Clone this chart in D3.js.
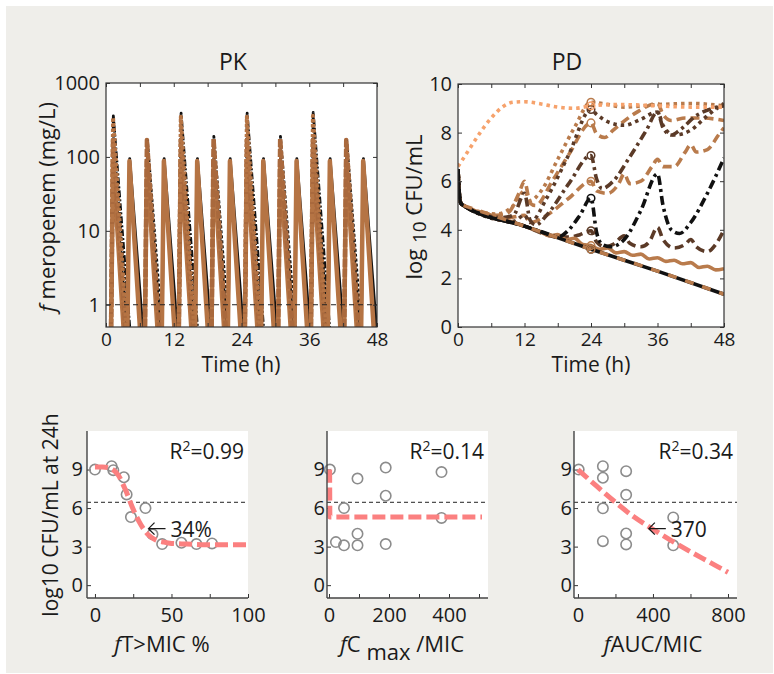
<!DOCTYPE html>
<html>
<head>
<meta charset="utf-8">
<script src="https://cdn.jsdelivr.net/npm/d3@7"></script>
<style>
  body { margin: 0; background: #fff; }
  svg text { font-family: "Open Sans", sans-serif; fill: #1a1a1a; }
</style>
</head>
<body>
<svg id="fig" width="774" height="674"></svg>
<script>
// ---------- data ----------
const timeTicks = [0, 6, 12, 18, 24, 30, 36, 42, 48];
const timeLabels = [0, 12, 24, 36, 48];
const pkTicks = [1, 10, 100, 1000];
const pdTicks = [0, 2, 4, 6, 8, 10];
const micLevel = 1;

// PK spikes, each one [time h, conc mg/L] : q3h, q6h, q12h regimens
const pkQ3Black = [
  [[0.95,0.5],[1.3,95],[3.6,0.5]], [[3.85,0.5],[4.2,95],[6.5,0.5]],
  [[6.95,0.5],[7.3,95],[9.6,0.5]], [[9.95,0.5],[10.3,95],[12.6,0.5]],
  [[12.95,0.5],[13.3,95],[15.6,0.5]], [[15.85,0.5],[16.2,95],[18.5,0.5]],
  [[18.75,0.5],[19.1,95],[21.4,0.5]], [[21.65,0.5],[22.0,95],[24.3,0.5]],
  [[24.65,0.5],[25.0,95],[27.3,0.5]], [[27.55,0.5],[27.9,95],[30.2,0.5]],
  [[30.55,0.5],[30.9,95],[33.2,0.5]], [[33.45,0.5],[33.8,95],[36.1,0.5]],
  [[36.35,0.5],[36.7,95],[39.0,0.5]], [[39.35,0.5],[39.7,95],[42.0,0.5]],
  [[42.25,0.5],[42.6,95],[44.9,0.5]], [[45.25,0.5],[45.6,95],[47.9,0.5]]
];
const pkQ3Brown = [
  [[0.9,0.5],[1.25,88],[3.1,0.5]], [[3.8,0.5],[4.15,88],[6.0,0.5]],
  [[6.9,0.5],[7.25,88],[9.1,0.5]], [[9.9,0.5],[10.25,88],[12.1,0.5]],
  [[12.9,0.5],[13.25,88],[15.1,0.5]], [[15.8,0.5],[16.15,88],[18.0,0.5]],
  [[18.7,0.5],[19.05,88],[20.9,0.5]], [[21.6,0.5],[21.95,88],[23.8,0.5]],
  [[24.6,0.5],[24.95,88],[26.8,0.5]], [[27.5,0.5],[27.85,88],[29.7,0.5]],
  [[30.5,0.5],[30.85,88],[32.7,0.5]], [[33.4,0.5],[33.75,88],[35.6,0.5]],
  [[36.3,0.5],[36.65,88],[38.5,0.5]], [[39.3,0.5],[39.65,88],[41.5,0.5]],
  [[42.2,0.5],[42.55,88],[44.4,0.5]], [[45.2,0.5],[45.55,88],[47.4,0.5]]
];
const pkQ6Black = [
  [[0.95,0.5],[1.3,185],[3.9,0.5]], [[6.95,0.5],[7.3,180],[9.9,0.5]],
  [[12.95,0.5],[13.3,185],[15.9,0.5]], [[18.75,0.5],[19.1,190],[21.7,0.5]],
  [[24.65,0.5],[25.0,185],[27.6,0.5]], [[30.55,0.5],[30.9,190],[33.5,0.5]],
  [[36.35,0.5],[36.7,185],[39.3,0.5]], [[42.25,0.5],[42.6,180],[45.2,0.5]]
];
const pkQ6Brown = [
  [[0.9,0.5],[1.25,170],[3.4,0.5]], [[6.9,0.5],[7.25,170],[9.4,0.5]],
  [[12.9,0.5],[13.25,170],[15.4,0.5]], [[18.7,0.5],[19.05,175],[21.2,0.5]],
  [[24.6,0.5],[24.95,170],[27.1,0.5]], [[30.5,0.5],[30.85,175],[33.0,0.5]],
  [[36.3,0.5],[36.65,170],[38.8,0.5]], [[42.2,0.5],[42.55,170],[44.7,0.5]]
];
const pkQ12Black = [
  [[0.95,0.5],[1.3,360],[4.2,0.5]], [[12.95,0.5],[13.3,390],[16.2,0.5]],
  [[24.65,0.5],[25.0,390],[27.9,0.5]], [[36.35,0.5],[36.7,400],[39.6,0.5]]
];
const pkQ12Brown = [
  [[0.9,0.5],[1.25,340],[3.6,0.5]], [[12.9,0.5],[13.25,350],[15.6,0.5]],
  [[24.6,0.5],[24.95,350],[27.3,0.5]], [[36.3,0.5],[36.65,360],[39.0,0.5]]
];

// PD: log10 CFU/mL over time
const pdControl = [[0,6.6],[2,7.3],[4,8.0],[6,8.6],[8,9.05],[10,9.25],[12,9.27],[15,9.18],[18,9.05],[21,9.0],[24,9.1],[27,9.15],[30,9.15],[36,9.1],[42,9.05],[48,9.05]];
const pdBlackSolid = [[0,6.5],[0.2,5.6],[0.5,5.1],[1,5.0],[12,4.15],[24,3.2],[36,2.3],[48,1.35]];
const pdBrownDashLow = [[1,5.0],[12,4.15],[24,3.2],[36,2.3],[48,1.35]];
const pdBrownSolid = [[0,6.5],[0.2,5.6],[0.5,5.1],[1,5.0],[6,4.6],[12,4.15],[15,3.9],[16.5,3.75],[18,3.8],[19.5,3.6],[21,3.65],[22.5,3.4],[24,3.35],[25.5,3.2],[27,3.25],[28.5,3.05],[30,3.1],[31.5,2.95],[33,3.0],[34.5,2.8],[36,2.85],[37.5,2.7],[39,2.75],[40.5,2.6],[42,2.65],[43.5,2.45],[45,2.5],[46.5,2.35],[48,2.4]];
const pdDarkDash = [[0,6.5],[0.2,5.6],[0.5,5.1],[1,5.0],[12,4.15],[18,3.7],[20,3.7],[22,3.8],[24,3.96],[25,3.5],[26.5,3.3],[28,3.4],[30,3.75],[31,3.45],[33,3.3],[34.5,3.5],[36,4.1],[37,3.6],[39,3.25],[41,3.4],[42,3.6],[43,3.3],[45,3.1],[46.5,3.4],[48,4.0]];
const pdBlackDashDot = [[0,6.5],[0.2,5.6],[0.5,5.1],[1,5.0],[12,4.15],[16,3.85],[18,3.7],[20,4.0],[22,4.6],[24,5.3],[25,3.9],[26,3.4],[27.5,3.3],[30,3.6],[33,4.8],[36,6.3],[37,5.0],[38.5,4.0],[40,3.85],[42,4.3],[45,5.5],[48,6.95]];
const pdDarkDashDot = [[0,6.5],[0.2,5.6],[0.5,5.1],[1,5.0],[8,4.5],[10,4.6],[12,5.5],[13,4.4],[14,4.2],[16,4.6],[20,5.9],[24,7.06],[25,6.1],[26,5.7],[28,6.0],[31,7.0],[34,8.1],[36,8.85],[37,8.2],[38.5,7.9],[40,8.1],[43,8.7],[46,9.0],[48,9.1]];
const pdLightDashLow = [[0,6.5],[0.2,5.6],[0.5,5.1],[1,5.0],[9,4.5],[12,4.6],[13,4.3],[16,4.6],[20,5.3],[24,6.0],[25,5.6],[27,5.5],[29,5.9],[30,6.3],[31,5.9],[33,6.0],[35,6.6],[36,6.9],[37,6.6],[39,6.6],[41,7.2],[42,7.5],[43,7.2],[45,7.3],[47,7.9],[48,8.2]];
const pdLightDashHigh = [[0,6.5],[0.2,5.6],[0.5,5.1],[1,5.0],[7,4.6],[9,4.7],[11,5.5],[12,6.0],[13,5.1],[14,5.0],[17,6.0],[20,7.1],[24,8.4],[25,7.95],[26.5,7.8],[28,8.1],[32,8.8],[36,9.2],[37,8.75],[38.5,8.5],[41,8.6],[44,8.6],[48,8.5]];
const pdLightDot = [[0,6.5],[0.2,5.6],[0.5,5.1],[1,5.0],[7,4.65],[10,5.0],[12,5.6],[13,5.2],[15,5.6],[18,6.9],[21,8.2],[24,9.25],[26,9.2],[30,9.05],[36,9.15],[42,9.2],[48,9.1]];
const pdDarkDot = [[0,6.5],[0.2,5.6],[0.5,5.1],[1,5.0],[10,4.35],[12,4.6],[13,4.3],[16,5.3],[20,7.1],[24,8.95],[25,8.75],[27,8.45],[30,8.3],[33,8.55],[36,8.85],[37,8.3],[39,7.9],[42,8.1],[45,8.7],[48,9.2]];

// PK/PD index vs log10 CFU/mL at 24 h
const fTMIC   = [0, 10.9, 12, 18.9, 20.7, 23.5, 33, 37.6, 43.9, 56.5, 66.3, 76.5];
const cfuTMIC = [9.0, 9.26, 8.95, 8.4, 7.06, 5.3, 6.0, 3.96, 3.2, 3.3, 3.2, 3.25];
const fitTMIC = [[0,9.2],[5,9.2],[10,9.1],[15,8.6],[20,7.4],[25,5.9],[30,4.7],[35,3.9],[40,3.5],[45,3.35],[50,3.25],[60,3.2],[70,3.15],[100,3.15]];

const fCmax   = [3, 23, 50, 50, 95, 95, 95, 189, 189, 189, 375, 375];
const cfuCmax = [9.0, 3.35, 6.0, 3.1, 8.3, 4.0, 3.1, 9.15, 6.96, 3.2, 8.8, 5.23];
const fitCmax = [[2,9.0],[3,5.3],[510,5.3]];

const fAUC   = [4, 133, 133, 133, 133, 257, 257, 257, 257, 508, 508];
const cfuAUC = [9.0, 9.26, 8.36, 5.98, 3.42, 8.87, 7.03, 4.02, 3.17, 5.27, 3.1];
const fitAUC = [[0,9.0],[100,7.7],[200,6.45],[300,5.3],[400,4.35],[500,3.45],[600,2.6],[700,1.8],[800,1.0]];

const stasisLine = 6.45;
const cfuTicks = [0, 3, 6, 9];

// ---------- drawing ----------
const svg = d3.select('#fig');
svg.append('rect').attr('x', 6).attr('y', 6).attr('width', 767).attr('height', 667).attr('fill', '#efeeea');

const axisColor = '#333';
const fontTick = 20;
const fontLabel = 22;

function styleAxis(g, size) {
  g.attr('font-size', size).attr('font-family', '"Open Sans", sans-serif');
  g.select('.domain').remove();
  g.selectAll('.tick line').attr('stroke', axisColor);
  g.selectAll('.tick text').attr('fill', '#1a1a1a');
}

function boxPanel(x, y, xMinor, xMajor, yTicks, yFmt, id) {
  const [x0, x1] = x.range();
  const [y1, y0] = y.range();
  const g = svg.append('g');
  g.append('rect').attr('x', x0).attr('y', y0).attr('width', x1 - x0).attr('height', y1 - y0).attr('fill', '#fff');
  g.append('clipPath').attr('id', id).append('rect')
    .attr('x', x0).attr('y', y0).attr('width', x1 - x0).attr('height', y1 - y0);
  const plot = g.append('g').attr('clip-path', `url(#${id})`);

  const bottom = g.append('g').attr('transform', `translate(0,${y1})`)
    .call(d3.axisBottom(x).tickValues(xMinor).tickSizeInner(-4).tickSizeOuter(0).tickPadding(5)
      .tickFormat(d => xMajor.includes(d) ? d : ''));
  styleAxis(bottom, 19);
  const top = g.append('g').attr('transform', `translate(0,${y0})`)
    .call(d3.axisTop(x).tickValues(xMinor).tickSizeInner(-4).tickSizeOuter(0).tickFormat(''));
  styleAxis(top, fontTick);
  const left = g.append('g').attr('transform', `translate(${x0},0)`)
    .call(d3.axisLeft(y).tickValues(yTicks).tickSizeInner(-4).tickSizeOuter(0).tickPadding(6).tickFormat(yFmt));
  styleAxis(left, fontTick);
  const right = g.append('g').attr('transform', `translate(${x1},0)`)
    .call(d3.axisRight(y).tickValues(yTicks).tickSizeInner(-4).tickSizeOuter(0).tickFormat(''));
  styleAxis(right, fontTick);

  return { g, plot, frame: () => g.append('rect').attr('x', x0).attr('y', y0)
    .attr('width', x1 - x0).attr('height', y1 - y0).attr('fill', 'none').attr('stroke', axisColor).attr('stroke-width', 1.2) };
}

// ----- PK -----
const xPK = d3.scaleLinear().domain([0, 48]).range([106, 377]);
const yPK = d3.scaleLog().domain([0.5, 1000]).range([327, 83]);
const pk = boxPanel(xPK, yPK, timeTicks, timeLabels, pkTicks, d => d, 'clipPK');
const pkLine = d3.line().x(d => xPK(d[0])).y(d => yPK(d[1]));

function drawSpikes(spikes, color, width, dash) {
  spikes.forEach(s => {
    pk.plot.append('path').datum(s).attr('d', pkLine)
      .attr('fill', 'none').attr('stroke', color).attr('stroke-width', width)
      .attr('stroke-dasharray', dash).attr('stroke-linejoin', 'round');
  });
}
drawSpikes(pkQ12Black, '#111', 2.8, '7,2,2,2');
drawSpikes(pkQ6Black, '#111', 2.8, '3,2');
drawSpikes(pkQ3Black, '#111', 2.8, null);
drawSpikes(pkQ3Brown, '#b57444', 4.5, null);
drawSpikes(pkQ6Brown, '#a9693d', 4.5, '8,2');
drawSpikes(pkQ12Brown, '#b57444', 4, '3,2');

pk.plot.append('line')
  .attr('x1', xPK(0)).attr('x2', xPK(48)).attr('y1', yPK(micLevel)).attr('y2', yPK(micLevel))
  .attr('stroke', '#222').attr('stroke-width', 1).attr('stroke-dasharray', '5,4');
pk.frame();

svg.append('text').attr('x', 233).attr('y', 70).attr('text-anchor', 'middle')
  .attr('font-size', 23).text('PK');
svg.append('text').attr('x', 241).attr('y', 372).attr('text-anchor', 'middle')
  .attr('font-size', 21).text('Time (h)');
const pkYLab = svg.append('text').attr('transform', 'translate(47,207) rotate(-90)')
  .attr('text-anchor', 'middle').attr('dy', '0.35em').attr('font-size', fontLabel);
pkYLab.append('tspan').attr('font-style', 'italic').text('f');
pkYLab.append('tspan').text(' meropenem (mg/L)');

// ----- PD -----
const xPD = d3.scaleLinear().domain([0, 48]).range([458, 724]);
const yPD = d3.scaleLinear().domain([0, 10]).range([327, 84]);
const pd = boxPanel(xPD, yPD, timeTicks, timeLabels, pdTicks, d => d, 'clipPD');
const pdLine = d3.line().curve(d3.curveMonotoneX).x(d => xPD(d[0])).y(d => yPD(d[1]));

const orange = '#f6a26c', lightBrown = '#b97b4c', darkBrown = '#5b3a27', black = '#111';
const pdSeries = [
  { data: pdLightDashLow,  color: lightBrown, dash: '9,5' },
  { data: pdDarkDash,      color: darkBrown,  dash: '9,5' },
  { data: pdBrownSolid,    color: lightBrown, dash: null },
  { data: pdLightDashHigh, color: lightBrown, dash: '9,5' },
  { data: pdDarkDot,       color: darkBrown,  dash: '3.5,4' },
  { data: pdLightDot,      color: lightBrown, dash: '3.5,4' },
  { data: pdDarkDashDot,   color: darkBrown,  dash: '9,4,3,4' },
  { data: pdBlackDashDot,  color: black,      dash: '9,4,3,4' },
  { data: pdBlackSolid,    color: black,      dash: null },
  { data: pdBrownDashLow,  color: lightBrown, dash: '9,9' },
  { data: pdControl,       color: orange,     dash: '3.5,4' }
];
pdSeries.forEach(s => {
  pd.plot.append('path').datum(s.data).attr('d', pdLine)
    .attr('fill', 'none').attr('stroke', s.color).attr('stroke-width', 3.6)
    .attr('stroke-dasharray', s.dash);
});
pdSeries.forEach(s => {
  const p = s.data.find(d => d[0] === 24);
  if (p) pd.plot.append('circle').attr('cx', xPD(p[0])).attr('cy', yPD(p[1])).attr('r', 3.8)
    .attr('fill', 'none').attr('stroke', s.color).attr('stroke-width', 1.5);
});
pd.frame();

svg.append('text').attr('x', 567).attr('y', 70).attr('text-anchor', 'middle')
  .attr('font-size', 23).text('PD');
svg.append('text').attr('x', 591).attr('y', 372).attr('text-anchor', 'middle')
  .attr('font-size', 21).text('Time (h)');
const pdYLab = svg.append('text').attr('transform', 'translate(414,207) rotate(-90)')
  .attr('text-anchor', 'middle').attr('dy', '0.35em').attr('font-size', fontLabel);
pdYLab.append('tspan').text('log ');
pdYLab.append('tspan').attr('dy', 4).attr('font-size', 19).text('10');
pdYLab.append('tspan').attr('dy', -4).text(' CFU/mL');

// ----- bottom scatter panels -----
const yB = d3.scaleLinear().domain([-1, 12]).range([598, 431]);
const fitColor = '#fb8080';

function scatterPanel(cfg) {
  const x = cfg.x;
  const [x0, x1] = x.range();
  const g = svg.append('g');
  g.append('rect').attr('x', x0).attr('y', 431).attr('width', x1 - x0).attr('height', 598 - 431).attr('fill', '#fff');

  const bx = g.append('g').attr('transform', 'translate(0,598)')
    .call(d3.axisBottom(x).tickValues(cfg.minor).tickSizeInner(-4).tickSizeOuter(0).tickPadding(10)
      .tickFormat(d => cfg.major.includes(d) ? d : ''));
  styleAxis(bx, fontTick);
  const by = g.append('g').attr('transform', `translate(${x0},0)`)
    .call(d3.axisLeft(yB).tickValues(cfuTicks).tickSizeInner(-4).tickSizeOuter(0).tickPadding(cfg.yPad));
  styleAxis(by, fontTick);

  g.append('line').attr('x1', x0).attr('x2', x1).attr('y1', yB(stasisLine)).attr('y2', yB(stasisLine))
    .attr('stroke', '#222').attr('stroke-width', 1).attr('stroke-dasharray', '4,3');

  g.selectAll('circle.pt').data(cfg.xs).enter().append('circle').attr('class', 'pt')
    .attr('cx', (d) => x(d)).attr('cy', (d, i) => yB(cfg.ys[i])).attr('r', 5.2)
    .attr('fill', 'none').attr('stroke', '#8c8c8c').attr('stroke-width', 1.6);

  g.append('path').datum(cfg.fit)
    .attr('d', d3.line().curve(d3.curveMonotoneX).x(d => x(d[0])).y(d => yB(d[1])))
    .attr('fill', 'none').attr('stroke', fitColor).attr('stroke-width', 5)
    .attr('stroke-dasharray', '13,5');

  g.append('line').attr('x1', x0).attr('x2', x1).attr('y1', 598).attr('y2', 598).attr('stroke', '#444').attr('stroke-width', 1.4);
  g.append('line').attr('x1', x0).attr('x2', x0).attr('y1', 431).attr('y2', 598).attr('stroke', '#444').attr('stroke-width', 1.4);

  const r2 = g.append('text').attr('x', x1 - 4).attr('y', 459).attr('text-anchor', 'end').attr('font-size', 21);
  r2.append('tspan').text('R');
  r2.append('tspan').attr('dy', -8).attr('font-size', 14).text('2');
  r2.append('tspan').attr('dy', 8).text('=' + cfg.r2);

  if (cfg.note) {
    // arrow pointing left at the curve, then the value
    const ax = x(cfg.note[0]), ay = yB(cfg.note[1]);
    g.append('path').attr('d', `M${ax + 17},${ay} H${ax} M${ax + 6},${ay - 6} L${ax},${ay} L${ax + 6},${ay + 6}`)
      .attr('fill', 'none').attr('stroke', '#1a1a1a').attr('stroke-width', 1.3);
    g.append('text').attr('x', ax + 22).attr('y', ay + 8).attr('font-size', 21).text(cfg.note[2]);
  }
  const lab = g.append('text').attr('x', cfg.labX).attr('y', 652).attr('text-anchor', 'middle').attr('font-size', fontLabel);
  cfg.label(lab);
}

scatterPanel({
  x: d3.scaleLinear().domain([-5.2, 100]).range([87, 248]),
  minor: [0, 25, 50, 75, 100], major: [0, 50, 100], yPad: 4,
  xs: fTMIC, ys: cfuTMIC, fit: fitTMIC, r2: '0.99', note: [35, 4.4, '34%'], labX: 162,
  label: t => { t.append('tspan').attr('font-style', 'italic').text('f'); t.append('tspan').text('T>MIC %'); }
});
scatterPanel({
  x: d3.scaleLinear().domain([-6.7, 530]).range([327, 488]),
  minor: [0, 100, 200, 300, 400, 500], major: [0, 200, 400], yPad: 2,
  xs: fCmax, ys: cfuCmax, fit: fitCmax, r2: '0.14', note: null, labX: 402,
  label: t => {
    t.append('tspan').attr('font-style', 'italic').text('f');
    t.append('tspan').text('C ');
    t.append('tspan').attr('dy', 8).text('max');
    t.append('tspan').attr('dy', -8).text(' /MIC');
  }
});
scatterPanel({
  x: d3.scaleLinear().domain([-21, 848]).range([574, 737]),
  minor: [0, 200, 400, 600, 800], major: [0, 400, 800], yPad: 2,
  xs: fAUC, ys: cfuAUC, fit: fitAUC, r2: '0.34', note: [378, 4.4, '370'], labX: 653,
  label: t => { t.append('tspan').attr('font-style', 'italic').text('f'); t.append('tspan').text('AUC/MIC'); }
});

svg.append('text').attr('transform', 'translate(51,515) rotate(-90)')
  .attr('text-anchor', 'middle').attr('dy', '0.35em').attr('font-size', 21)
  .text('log10 CFU/mL at 24h');
</script>
</body>
</html>
